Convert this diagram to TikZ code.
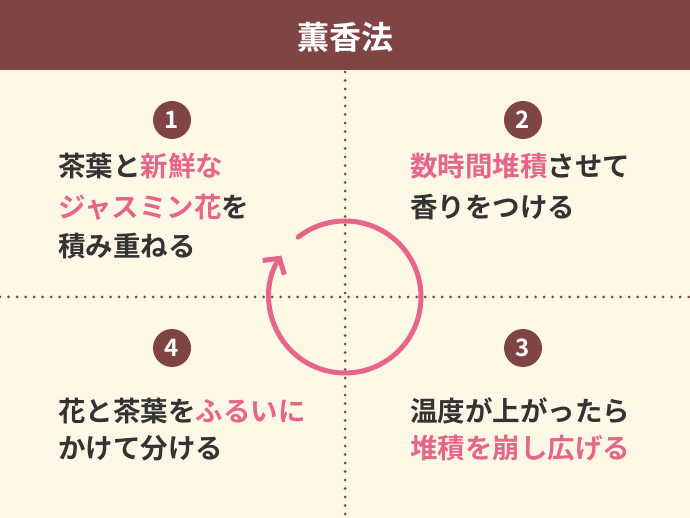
\documentclass[tikz,border=0pt]{standalone}
\usepackage{fontspec}
\setmainfont{Noto Sans CJK JP}[BoldFont={Noto Sans CJK JP Bold}]
\usetikzlibrary{arrows.meta}
\definecolor{hdr}{HTML}{7F4545}
\definecolor{bg}{HTML}{FDF8E6}
\definecolor{pk}{HTML}{E5668A}
\definecolor{tx}{HTML}{333333}
\begin{document}
\begin{tikzpicture}[x=1pt,y=-1pt,
  num/.style={circle,fill=hdr,text=white,minimum size=38pt,inner sep=0pt,font=\bfseries\fontsize{24}{24}\selectfont},
  txt/.style={anchor=west,inner sep=0pt,text=tx,font=\bfseries\fontsize{27.5}{27.5}\selectfont},
  dots/.style={hdr,line width=3pt,dash pattern=on 0pt off 8.5pt,line cap=round}]
\fill[bg] (0,0) rectangle (690,518);
\useasboundingbox (0,0) rectangle (690,518);
\fill[hdr] (0,0) rectangle (690,70);
\node[text=white,font=\bfseries\fontsize{32}{32}\selectfont] (title) at (345,37) {薫香法};
\coordinate (vt) at (345,72); \coordinate (vb) at (345,518);
\coordinate (hl) at (0,297); \coordinate (hr) at (690,297);
\draw[dots] (vt) -- (vb);
\draw[dots] (hl) -- (hr);
\node[num] (n1) at (172,120) {1};
\node[num] (n2) at (523,120) {2};
\node[num] (n4) at (172,348) {4};
\node[num] (n3) at (523,348) {3};
\node[txt] (t1a) at (58,166) {茶葉と\textcolor{pk}{新鮮な}};
\node[txt] (t1b) at (58,207) {\textcolor{pk}{ジャスミン花}を};
\node[txt] (t1c) at (58,246) {積み重ねる};
\node[txt] (t2a) at (410,166) {\textcolor{pk}{数時間堆積}させて};
\node[txt] (t2b) at (410,207) {香りをつける};
\node[txt] (t4a) at (58,411) {花と茶葉を\textcolor{pk}{ふるいに}};
\node[txt] (t4b) at (58,448) {かけて分ける};
\node[txt] (t3a) at (410,411) {温度が上がったら};
\node[txt] (t3b) at (410,448) {\textcolor{pk}{堆積を崩し広げる}};
\coordinate (c) at (345,297);
\draw[pk,line width=5pt,-{Straight Barb[length=11pt,width=26pt,line width=5pt]},line cap=round]
  ([shift={(-128:76)}]c) arc[start angle=-128,end angle=213,radius=76];
\end{tikzpicture}
\end{document}
